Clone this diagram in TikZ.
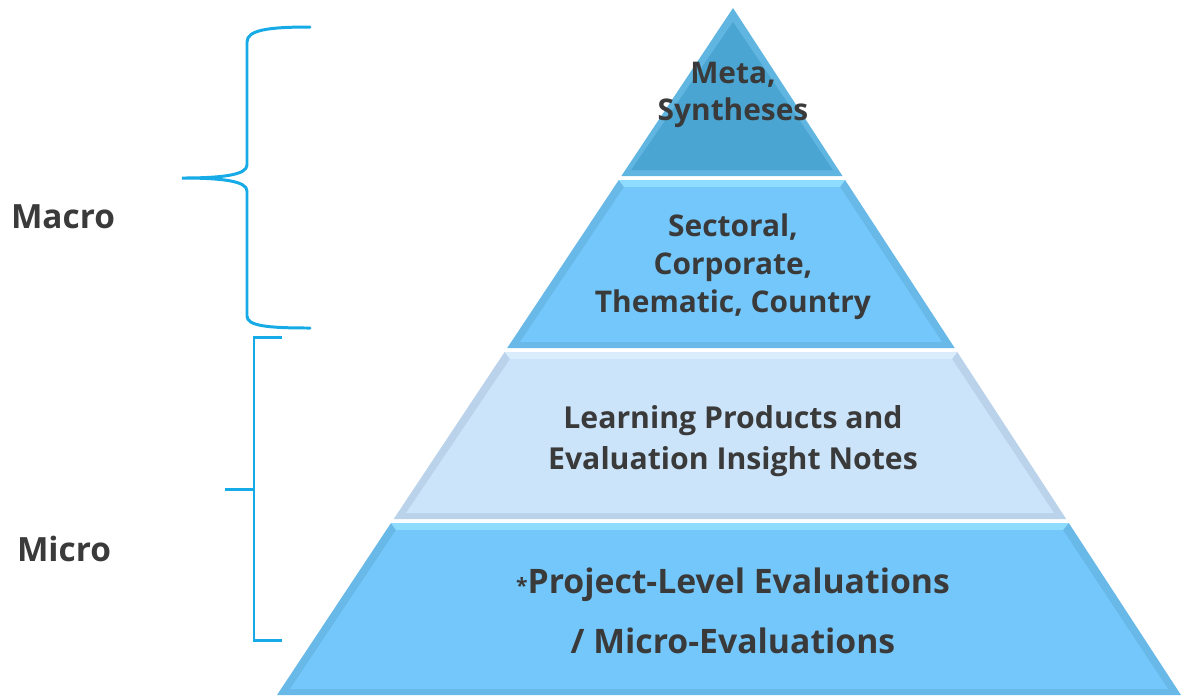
\documentclass[tikz,border=0pt]{standalone}
\usepackage{fontspec}
\setmainfont{Open Sans}
\usetikzlibrary{calc}

\definecolor{metaMain}{RGB}{74,165,210}
\definecolor{metaEdge}{RGB}{96,182,224}
\definecolor{skyMain}{RGB}{116,199,250}
\definecolor{skyLight}{RGB}{142,220,255}
\definecolor{skyEdge}{RGB}{104,184,232}
\definecolor{paleMain}{RGB}{203,228,250}
\definecolor{paleLight}{RGB}{218,237,253}
\definecolor{paleEdge}{RGB}{186,210,234}
\definecolor{braceBlue}{RGB}{22,170,230}
\definecolor{txtGray}{RGB}{58,58,58}

\begin{document}
\begin{tikzpicture}[x=0.02cm, y=-0.02cm,
  tiertext/.style={font=\bfseries\fontsize{17}{21.5}\selectfont, text=txtGray, align=center},
  sidetext/.style={font=\bfseries\fontsize{19}{22}\selectfont, text=txtGray},
  brace/.style={draw=braceBlue, line width=1.7pt, line cap=round}]

\useasboundingbox (0,0) rectangle (1181,698);

%% Tier 1 : apex
\fill[metaEdge] (733,8) -- (842.5,176) -- (621.4,176) -- cycle;
\fill[metaMain] (733,22) -- (833,170) -- (631,170) -- cycle;

%% Tier 2
\fill[skyEdge] (618.8,180) -- (845.1,180) -- (954.7,348) -- (507.2,348) -- cycle;
\fill[skyLight] (618.8,180) -- (845.1,180) -- (840,187) -- (624,187) -- cycle;
\fill[skyMain] (624,187) -- (840,187) -- (942,342) -- (520,342) -- cycle;

%% Tier 3
\fill[paleEdge] (504.6,352) -- (957.3,352) -- (1066.2,519) -- (393.7,519) -- cycle;
\fill[paleLight] (504.6,352) -- (957.3,352) -- (952,359) -- (510,359) -- cycle;
\fill[paleMain] (510,359) -- (952,359) -- (1054,513) -- (406,513) -- cycle;

%% Tier 4
\fill[skyEdge] (391,523) -- (1068.8,523) -- (1181,695) -- (277,695) -- cycle;
\fill[skyLight] (391,523) -- (1068.8,523) -- (1063,530) -- (396,530) -- cycle;
\fill[skyMain] (396,530) -- (1063,530) -- (1168,689) -- (290,689) -- cycle;

%% tier labels
\node[tiertext] (meta) at (733,95) {Meta,\\Syntheses};
\node[tiertext] (sectoral) at (733,267) {Sectoral,\\Corporate,\\Thematic, Country};
\node[tiertext, font=\bfseries\fontsize{17.2}{23}\selectfont] (learning) at (733,441) {Learning Products and\\Evaluation Insight Notes};
\node[tiertext, font=\bfseries\fontsize{19.2}{34}\selectfont] (project) at (733,611) {{\fontsize{12}{12}\selectfont *}Project-Level Evaluations\\/ Micro-Evaluations};

%% side labels
\node[sidetext] (macro) at (63,217) {Macro};
\node[sidetext] (micro) at (64,549) {Micro};

%% Macro brace
\coordinate (macroTop) at (310,27);
\coordinate (macroTip) at (182,178);
\coordinate (macroBot) at (310,328);
\draw[brace] (macroTop) .. controls (268,27) and (247,30) .. (247,42)
  -- (247,165) .. controls (247,175) and (222,178) .. (macroTip)
  .. controls (222,178) and (247,181) .. (247,191)
  -- (247,316) .. controls (247,326) and (268,328) .. (macroBot);

%% Micro bracket
\coordinate (microTop) at (282,337);
\coordinate (microBot) at (282,640);
\coordinate (microTip) at (225,489);
\draw[brace, line cap=butt] (microTop) -- (254,337) -- (254,640) -- (microBot);
\draw[brace, line cap=butt] (microTip) -- (254,489);

\end{tikzpicture}
\end{document}
